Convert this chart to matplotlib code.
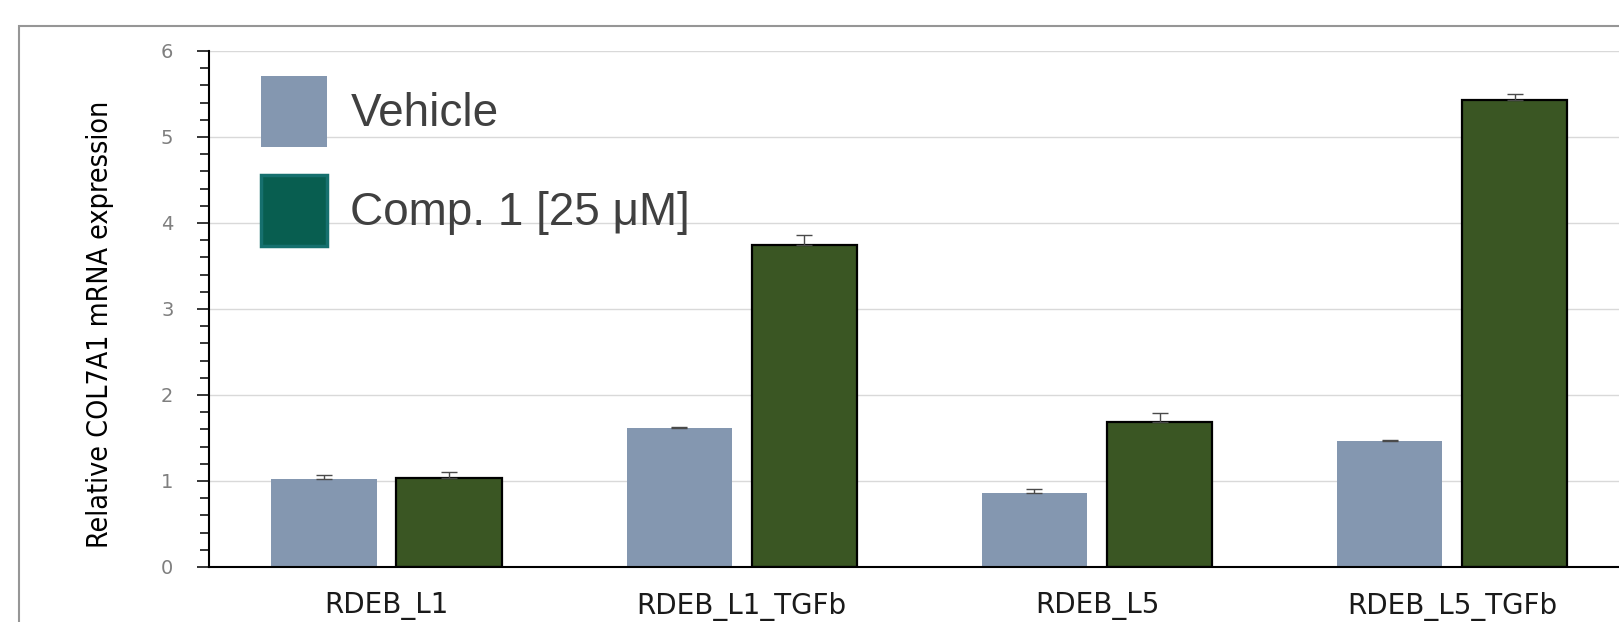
import matplotlib
matplotlib.use("Agg")
import matplotlib.pyplot as plt
import numpy as np
from matplotlib.patches import Rectangle, Patch
from matplotlib.ticker import MultipleLocator, FixedLocator
from matplotlib import font_manager

# ---- data ----
categories = ["RDEB_L1", "RDEB_L1_TGFb", "RDEB_L5", "RDEB_L5_TGFb"]
series_names = ["Vehicle", "Comp. 1 [25 \u03bcM]"]
vehicle = [1.02, 1.62, 0.855, 1.47]
vehicle_err = [0.05, 0.01, 0.05, 0.01]
comp1 = [1.04, 3.75, 1.69, 5.43]
comp1_err = [0.06, 0.11, 0.10, 0.07]
y_ticks = [0, 1, 2, 3, 4, 5, 6]
y_label = "Relative COL7A1 mRNA expression"

# ---- style ----
W, H = 1619, 622
c_vehicle = "#8497b0"
c_comp = "#3a5623"
c_comp_legend = "#085e50"
c_comp_legend_edge = "#16706e"

# look for an installed condensed sans face for the y label
narrow = None
for f in font_manager.fontManager.ttflist:
    st = str(f.stretch).lower()
    if ("narrow" in f.name.lower() or "condensed" in f.name.lower()
            or st in ("condensed", "semi-condensed", "extra-condensed", "ultra-condensed")
            or (st.isdigit() and int(st) < 500)):
        if "serif" in f.name.lower() and "sans" not in f.name.lower():
            continue
        if f.style == "normal" and f.weight in (400, "normal", "regular"):
            narrow = f
            break

fig = plt.figure(figsize=(W / 100, H / 100), dpi=100)
ax = fig.add_axes([209 / W, 55 / H, 4 * 355.2 / W, 516 / H])

x = np.arange(len(categories))
bw = 0.297
off = 0.176

ax.bar(x - off, vehicle, bw, color=c_vehicle, edgecolor="none", zorder=2)
ax.bar(x + off, comp1, bw, color=c_comp, edgecolor="black", linewidth=1.6, zorder=2)
ax.errorbar(x - off, vehicle, yerr=[np.zeros(len(vehicle)), vehicle_err], fmt="none",
            ecolor="#4a4a4a", elinewidth=1.0, capsize=5.5, capthick=1.0, zorder=3)
ax.errorbar(x + off, comp1, yerr=[np.zeros(len(comp1)), comp1_err], fmt="none",
            ecolor="#4a4a4a", elinewidth=1.0, capsize=5.5, capthick=1.0, zorder=3)

ax.set_xlim(-0.5, len(categories) - 0.5)
ax.set_ylim(0, 6)
ax.yaxis.set_major_locator(FixedLocator(y_ticks))
ax.yaxis.set_minor_locator(MultipleLocator(0.2))
ax.set_xticks(x)
ax.set_xticklabels(categories, fontsize=20, color="#1a1a1a", family="DejaVu Sans")
ax.tick_params(axis="x", length=0, pad=18)
ax.tick_params(axis="y", which="major", length=8.6, width=1.1, color="black",
               labelsize=14, labelcolor="#7f7f7f", pad=17)
ax.tick_params(axis="y", which="minor", length=6.2, width=1.1, color="black")
for lab in ax.get_yticklabels():
    lab.set_family("DejaVu Sans")

ax.yaxis.grid(True, color="#d9d9d9", linewidth=1.0, zorder=0)
ax.set_axisbelow(True)
for s in ["top", "right"]:
    ax.spines[s].set_visible(False)
ax.spines["left"].set_linewidth(1.5)
ax.spines["bottom"].set_linewidth(1.5)

if narrow is not None:
    fig.text(100 / W, 1 - 324 / H, y_label, rotation=90, ha="center", va="center",
             fontproperties=font_manager.FontProperties(fname=narrow.fname, size=20.5),
             color="black")
else:
    fig.text(100 / W, 1 - 324 / H, y_label, rotation=90, ha="center", va="center",
             fontsize=20, family=["Liberation Sans"], color="black")

handles = [Patch(facecolor=c_vehicle, edgecolor="none"),
           Patch(facecolor=c_comp_legend, edgecolor=c_comp_legend_edge, linewidth=2.5)]
leg = fig.legend(handles, series_names, loc="upper left",
                 bbox_to_anchor=(261 / W, 1 - 76 / H), bbox_transform=fig.transFigure,
                 frameon=False, borderpad=0, borderaxespad=0,
                 handlelength=1.43, handleheight=2.01, handletextpad=0.52,
                 labelspacing=0.61,
                 prop={"family": "Liberation Sans", "size": 33})
for t in leg.get_texts():
    t.set_color("#404040")

# outer frame (cropped at right and bottom)
fig.patches.append(Rectangle((19 / W, -0.2), 1.5, 1.2 - 26 / H, transform=fig.transFigure,
                             fill=False, edgecolor="#969696", linewidth=1.5, zorder=-1))

fig.savefig("out.png", dpi=100)
